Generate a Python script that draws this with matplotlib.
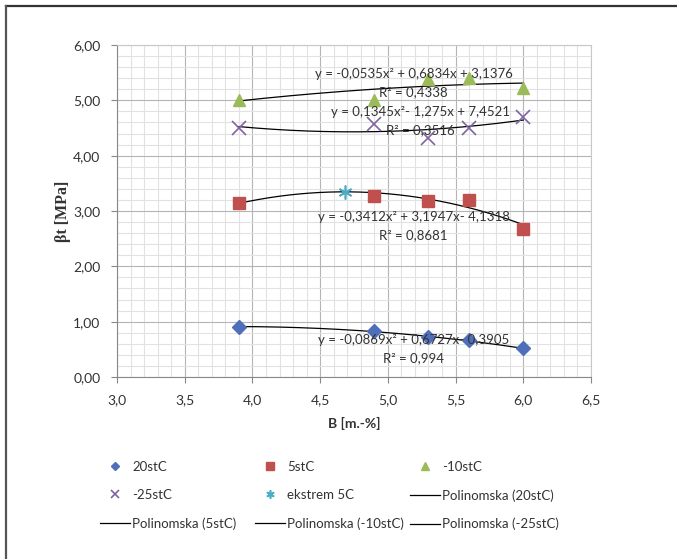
import numpy as np
import matplotlib.pyplot as plt
from matplotlib.ticker import MultipleLocator, FuncFormatter
from matplotlib.lines import Line2D

plt.rcParams['font.family'] = ['Lato', 'DejaVu Sans']

# udio B [m.-%]
B = [3.9, 4.9, 5.3, 5.6, 6.0]

# vrijednosti beta_t [MPa] po temperaturama
bt_20 = [0.91, 0.83, 0.73, 0.66, 0.52]
bt_5 = [3.15, 3.27, 3.18, 3.20, 2.68]
bt_m10 = [5.01, 5.00, 5.38, 5.40, 5.22]
bt_m25 = [4.50, 4.57, 4.32, 4.50, 4.69]

# ekstrem polinoma za 5stC
ekstrem_x = [4.68]
ekstrem_y = [3.35]

# koeficijenti polinomskih trendova (a, b, c)
p_20 = [-0.0869, 0.6727, -0.3905]
p_5 = [-0.3412, 3.1947, -4.1318]
p_m10 = [-0.0535, 0.6834, 3.1376]
p_m25 = [0.1345, -1.275, 7.4521]

jed_20 = ['y = -0,0869x² + 0,6727x- 0,3905', 'R² = 0,994']
jed_5 = ['y = -0,3412x² + 3,1947x- 4,1318', 'R² = 0,8681']
jed_m10 = ['y = -0,0535x² + 0,6834x + 3,1376', 'R² = 0,4338']
jed_m25 = ['y = 0,1345x²- 1,275x + 7,4521', 'R² = 0,3516']

c_plava = '#4f6fba'
c_crvena = '#c0504d'
c_zelena = '#9bbb59'
c_ljub = '#8064a2'
c_tirk = '#4bacc6'
txt = '#333333'

fig = plt.figure(figsize=(6.77, 5.59), dpi=100)
ax = fig.add_axes([0.1728, 0.3256, 0.7002, 0.5939])

ax.plot(B, bt_20, 'D', color=c_plava, ms=7.5, label='20stC', zorder=3)
ax.plot(B, bt_5, 's', color=c_crvena, ms=8.5, label='5stC', zorder=3)
ax.plot(B, bt_m10, '^', color=c_zelena, ms=9, label='-10stC', zorder=3)
ax.plot(B, bt_m25, 'x', color=c_ljub, ms=10, mew=1.2, label='-25stC', zorder=3)
# zvjezdica: X s okomitom crtom
ax.plot(ekstrem_x, ekstrem_y, marker=(6, 2, 0), ls='none', color=c_tirk, ms=10,
        mew=1.2, label='ekstrem 5C', zorder=3)

xs = np.linspace(min(B), max(B), 200)
for p, ime in [(p_20, '20stC'), (p_5, '5stC'), (p_m10, '-10stC'), (p_m25, '-25stC')]:
    ax.plot(xs, np.polyval(p, xs), color='black', lw=0.9,
            label='Polinomska (%s)' % ime, zorder=2)

# jednadzbe trendova
for (jed, r2), (xj, yj, xr, yr) in [
        (jed_m10, (5.19, 5.48, 5.19, 5.14)),
        (jed_m25, (5.24, 4.79, 5.24, 4.47)),
        (jed_5, (5.19, 2.89, 5.19, 2.57)),
        (jed_20, (5.19, 0.67, 5.19, 0.34))]:
    ax.text(xj, yj, jed, ha='center', va='center', fontsize=9.5, color=txt, zorder=4)
    ax.text(xr, yr, r2, ha='center', va='center', fontsize=9.5, color=txt, zorder=4)

ax.set_xlim(3.0, 6.5)
ax.set_ylim(0, 6)
ax.xaxis.set_major_locator(MultipleLocator(0.5))
ax.xaxis.set_minor_locator(MultipleLocator(0.1))
ax.yaxis.set_major_locator(MultipleLocator(1.0))
ax.yaxis.set_minor_locator(MultipleLocator(0.2))
ax.xaxis.set_major_formatter(FuncFormatter(lambda v, p: ('%.1f' % v).replace('.', ',')))
ax.yaxis.set_major_formatter(FuncFormatter(lambda v, p: ('%.2f' % v).replace('.', ',')))
ax.grid(which='major', color='#b5b5b5', lw=0.8)
ax.grid(which='minor', color='#e2e2e2', lw=0.8)
ax.set_axisbelow(True)
ax.tick_params(which='major', direction='out', length=4, color='#888888',
               labelsize=10, labelcolor=txt, pad=8)
ax.tick_params(which='minor', length=0)
for s in ['top', 'right']:
    ax.spines[s].set_color('#c8c8c8')
for s in ['left', 'bottom']:
    ax.spines[s].set_color('#888888')

ax.set_xlabel('B [m.-%]', fontsize=10, fontweight='bold', color=txt, labelpad=8)
ax.set_ylabel('βt [MPa]', fontsize=11.5, fontweight='bold', color=txt,
              family='Liberation Serif')
ax.yaxis.set_label_coords(-0.114, 0.5)
ax.yaxis.label.set_verticalalignment('center')

# legenda u tri stupca
h, l = ax.get_legend_handles_labels()
d = dict(zip(l, h))
stupci = [['20stC', '-25stC', 'Polinomska (5stC)'],
          ['5stC', 'ekstrem 5C', 'Polinomska (-10stC)'],
          ['-10stC', 'Polinomska (20stC)', 'Polinomska (-25stC)']]
x_poz = [100, 255, 410]
for imena, xp in zip(stupci, x_poz):
    fig.legend([d[n] for n in imena], imena, loc='upper left',
               bbox_to_anchor=(xp / 677, 1 - 461 / 559), frameon=False,
               fontsize=9.5, labelcolor=txt, handlelength=2.3, handletextpad=0.15,
               labelspacing=1.22, markerscale=0.6, borderaxespad=0, borderpad=0)

# okvir slike
fig.add_artist(Line2D([0.009, 1.0], [1 - 6 / 559, 1 - 6 / 559], color='#333333', lw=1.6))
fig.add_artist(Line2D([0.009, 0.009], [0.0, 1 - 6 / 559], color='#555555', lw=1.6))

fig.savefig('out.png', dpi=100)
